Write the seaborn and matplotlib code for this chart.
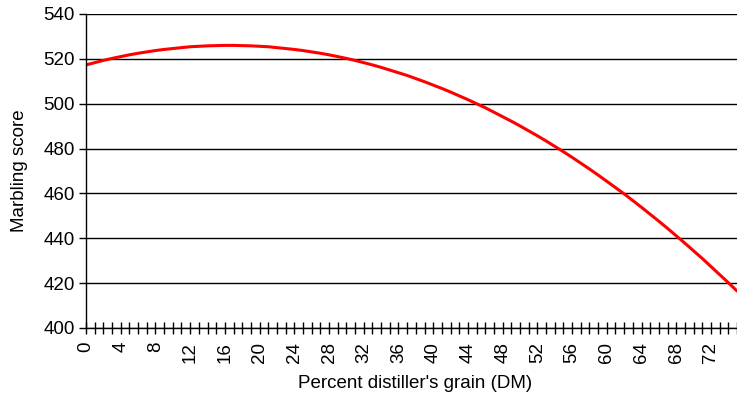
import matplotlib
matplotlib.use("Agg")
import matplotlib.pyplot as plt
import numpy as np
import seaborn as sns

# percent distiller's grain (DM), 0..75
grain_pct = list(range(0, 76))
# marbling score
marbling = [517.3, 518.3, 519.3, 520.2, 521.0, 521.8, 522.5, 523.1, 523.7, 524.2,
            524.6, 525.0, 525.4, 525.6, 525.8, 525.9, 526.0, 526.0, 525.9, 525.8,
            525.6, 525.4, 525.0, 524.6, 524.2, 523.7, 523.1, 522.5, 521.8, 521.0,
            520.2, 519.3, 518.3, 517.3, 516.2, 515.0, 513.8, 512.6, 511.2, 509.8,
            508.3, 506.8, 505.2, 503.5, 501.8, 500.0, 498.2, 496.2, 494.2, 492.2,
            490.1, 487.9, 485.7, 483.4, 481.0, 478.6, 476.1, 473.5, 470.9, 468.2,
            465.4, 462.6, 459.8, 456.8, 453.8, 450.7, 447.6, 444.4, 441.1, 437.8,
            434.4, 431.0, 427.4, 423.8, 420.2, 416.5]
y_ticks = [400, 420, 440, 460, 480, 500, 520, 540]
x_label_ticks = list(range(0, 73, 4))

sns.set_style("white")
plt.rcParams['font.family'] = ['Liberation Sans', 'DejaVu Sans']

fig = plt.figure(figsize=(7.37, 3.93), dpi=100)
ax = fig.add_axes([86/737, 1 - 328/393, 1 - 86/737, (328 - 14)/393])

sns.lineplot(x=grain_pct, y=marbling, color='#ff0000', linewidth=2.2, ax=ax)

ax.set_xlim(0, 75)
ax.set_ylim(400, 540)
ax.set_yticks(y_ticks)
ax.set_yticklabels([str(v) for v in y_ticks], fontsize=13.5)
ax.set_xticks(grain_pct)
ax.set_xticklabels([str(v) if v in x_label_ticks else '' for v in grain_pct],
                   rotation=90, fontsize=13.5)
ax.tick_params(axis='x', bottom=True, direction='inout', length=8, width=1,
               color='black', labelcolor='black', pad=6)
ax.tick_params(axis='y', left=True, direction='out', length=5, width=1,
               color='black', labelcolor='black', pad=3)

ax.grid(axis='y', color='black', linewidth=1)
ax.set_axisbelow(True)
for side in ['top', 'right']:
    ax.spines[side].set_visible(False)
for side in ['left', 'bottom']:
    ax.spines[side].set_color('black')
    ax.spines[side].set_linewidth(1)

ax.set_xlabel("Percent distiller's grain (DM)", fontsize=13.5, color='black', va='center')
ax.xaxis.set_label_coords(0.5 + 4/651, -(384 - 328)/314)
ax.set_ylabel("Marbling score", fontsize=13.5, color='black', va='center')
ax.yaxis.set_label_coords(-(86 - 20)/651, 0.5)

fig.savefig("out.png", dpi=100)
